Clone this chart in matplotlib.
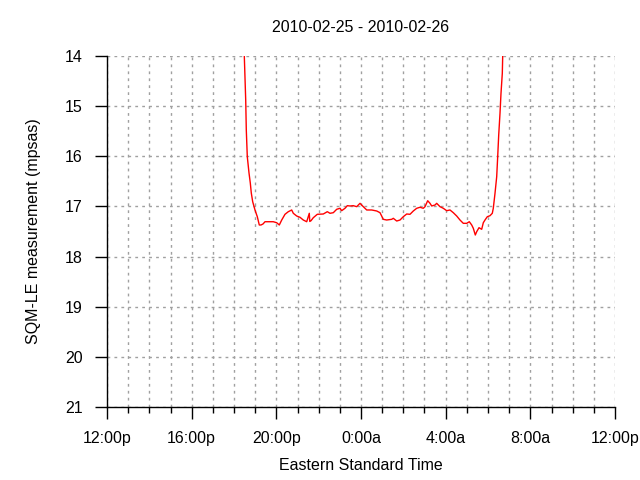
import matplotlib
matplotlib.use("Agg")
import matplotlib.pyplot as plt
import numpy as np

# hours after 12:00 noon on 2010-02-25
hours = [6.47, 6.486, 6.553, 6.581, 6.628, 6.709, 6.770, 6.817, 6.883, 6.992, 7.101,
         7.195, 7.276, 7.370, 7.465, 7.701, 7.857, 8.017, 8.140, 8.254, 8.409,
         8.565, 8.726, 8.802, 8.962, 9.118, 9.274, 9.435, 9.557, 9.58, 9.638,
         9.746, 9.935, 10.219, 10.408, 10.535, 10.691, 10.852, 11.008, 11.088, 11.244,
         11.353, 11.480, 11.636, 11.797, 11.953, 12.109, 12.270, 12.506, 12.742, 12.898,
         13.054, 13.214, 13.451, 13.526, 13.687, 13.843, 13.998, 14.159, 14.315, 14.471,
         14.632, 14.787, 14.943, 15.024, 15.151, 15.260, 15.340, 15.496, 15.576, 15.732,
         15.888, 16.049, 16.205, 16.361, 16.521, 16.677, 16.833, 16.994, 17.117, 17.230,
         17.306, 17.400, 17.466, 17.575, 17.702, 17.778, 17.858, 17.967, 18.094, 18.203,
         18.250, 18.331, 18.411, 18.458, 18.506, 18.567, 18.614, 18.676, 18.695, 18.72]
mpsas = [13.5, 13.99, 14.877, 15.476, 16.008, 16.333, 16.533, 16.732, 16.906, 17.071, 17.205,
         17.370, 17.370, 17.350, 17.305, 17.305, 17.305, 17.325, 17.370, 17.271, 17.157,
         17.105, 17.071, 17.137, 17.191, 17.217, 17.271, 17.305, 17.137, 17.300, 17.285,
         17.225, 17.157, 17.151, 17.105, 17.137, 17.125, 17.057, 17.037, 17.085, 17.037,
         16.985, 16.991, 16.985, 17.005, 16.938, 17.005, 17.071, 17.071, 17.091, 17.125,
         17.257, 17.271, 17.257, 17.237, 17.291, 17.271, 17.205, 17.151, 17.157, 17.091,
         17.037, 17.017, 17.037, 17.005, 16.886, 16.938, 16.991, 16.972, 16.938, 17.005,
         17.037, 17.085, 17.071, 17.125, 17.191, 17.271, 17.337, 17.337, 17.305, 17.370,
         17.436, 17.570, 17.504, 17.424, 17.456, 17.325, 17.271, 17.205, 17.185, 17.137,
         17.037, 16.738, 16.407, 16.008, 15.576, 15.143, 14.744, 14.345, 13.994, 13.5]

xtick_hours = [0, 4, 8, 12, 16, 20, 24]
xtick_labels = ["12:00p", "16:00p", "20:00p", "0:00a", "4:00a", "8:00a", "12:00p"]
ytick_values = [14, 15, 16, 17, 18, 19, 20, 21]

plt.rcParams['font.family'] = ['Liberation Sans', 'DejaVu Sans']

fig = plt.figure(figsize=(6.4, 4.8), dpi=100)
ax = fig.add_axes([107/640, 1-407/480, (615-107)/640, (407-56)/480])

ax.plot(hours, mpsas, color='red', linewidth=1.0)

ax.set_xlim(0, 24)
ax.set_ylim(21, 14)
ax.set_xticks(xtick_hours)
ax.set_xticklabels(xtick_labels)
ax.set_xticks(np.arange(0, 25, 1), minor=True)
ax.set_yticks(ytick_values)
ax.set_yticklabels([str(v) for v in ytick_values])

ax.grid(True, which='both', axis='x', color='#a0a0a0', linestyle=(0, (2, 3)), linewidth=1)
ax.grid(True, which='major', axis='y', color='#a0a0a0', linestyle=(0, (2, 3)), linewidth=1)
ax.set_axisbelow(True)

for s in ['top', 'right']:
    ax.spines[s].set_visible(False)
for s in ['left', 'bottom']:
    ax.spines[s].set_linewidth(1)
    ax.spines[s].set_color('black')

ax.tick_params(axis='both', which='major', length=8.6, width=1, labelsize=11.5, pad=9, colors='black')
ax.tick_params(axis='x', which='minor', length=4, width=1)
ax.tick_params(axis='y', which='minor', length=0)

ax.set_title("2010-02-25 - 2010-02-26", fontsize=11.5, pad=17)
ax.set_xlabel("Eastern Standard Time", fontsize=11.5, labelpad=8)
ax.set_ylabel("SQM-LE measurement (mpsas)", fontsize=11.5, labelpad=17)

fig.savefig("out.png", dpi=100)
